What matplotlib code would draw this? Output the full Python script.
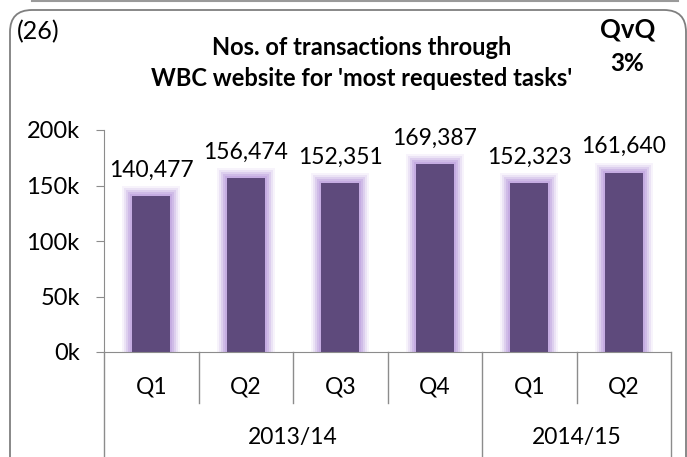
import numpy as np
import matplotlib.pyplot as plt
from matplotlib.patches import FancyBboxPatch
from matplotlib.transforms import IdentityTransform

quarters = ["Q1", "Q2", "Q3", "Q4", "Q1", "Q2"]
years = ["2013/14", "2014/15"]
year_spans = [(0, 4), (4, 6)]
values = [140477, 156474, 152351, 169387, 152323, 161640]

bar_color = "#5E4A7C"
glow_color = "#BFA3DF"
axis_color = "#8C8C8C"

plt.rcParams["font.family"] = ["Lato", "DejaVu Sans"]

W, H = 687, 457
fig = plt.figure(figsize=(W / 100, H / 100), dpi=100)
ax = fig.add_axes([104 / W, 105 / H, 567 / W, 222 / H])

# rounded frame (pixel coordinates, origin bottom-left)
frame = FancyBboxPatch((10, -30), 676, H - 10 + 30, boxstyle="round,pad=0,rounding_size=22",
                       transform=IdentityTransform(), fill=False, edgecolor="#7F7F7F", lw=1.3)
fig.patches.append(frame)
fig.add_artist(plt.Line2D([32, 678], [H - 1, H - 1], transform=IdentityTransform(),
                          color="#9A9A9A", lw=1.5))

x = np.arange(len(values))
vals = np.array(values)
ppx_x = 1 / 94.5          # data units per pixel, x
ppx_y = 200000 / 222      # data units per pixel, y

# soft glow behind the bars
for d, a in [(10, 0.12), (8, 0.2), (6, 0.3), (4, 0.45), (2, 0.6)]:
    ax.bar(x, vals + d * ppx_y, width=0.4 + 2 * d * ppx_x, color=glow_color, alpha=a,
           lw=0, zorder=1)
ax.bar(x, vals, width=0.4, color=bar_color, lw=0, zorder=2)

for xi, v in zip(x, values):
    ax.annotate(f"{v:,}", (xi, v), xytext=(0, 14), textcoords="offset points",
                ha="center", va="baseline", fontsize=16.5, color="black")

ax.set_xlim(-0.5, len(values) - 0.5)
ax.set_ylim(0, 200000)
ticks = np.arange(0, 200001, 50000)
ax.set_yticks(ticks)
ax.set_yticklabels([f"{int(t / 1000)}k" for t in ticks], fontsize=17)
ax.tick_params(axis="y", length=5.5, color=axis_color, pad=12)
ax.set_xticks([])
for s in ["top", "right"]:
    ax.spines[s].set_visible(False)
ax.spines["left"].set_color(axis_color)
ax.spines["bottom"].set_color(axis_color)

# multi-level category axis
xt = ax.get_xaxis_transform()
q_depth = -0.23
y_depth = -0.48
for xi, q in zip(x, quarters):
    ax.text(xi, -0.158, q, transform=xt, ha="center", va="center", fontsize=16.5)
starts = [s for s, _ in year_spans]
for b in range(1, len(values)):
    bottom = y_depth if b in starts else q_depth
    ax.plot([b - 0.5, b - 0.5], [0, bottom], transform=xt, color=axis_color, lw=1,
            clip_on=False)
for edge in [-0.5, len(values) - 0.5]:
    ax.plot([edge, edge], [0, y_depth], transform=xt, color=axis_color, lw=1, clip_on=False)
for yr, (s, e) in zip(years, year_spans):
    ax.text((s + e - 1) / 2, -0.383, yr, transform=xt, ha="center", va="center",
            fontsize=16.5)

fig.text(0.527, 0.895, "Nos. of transactions through", ha="center", va="center",
         fontsize=17, fontweight="bold")
fig.text(0.527, 0.829, "WBC website for 'most requested tasks'", ha="center", va="center",
         fontsize=17, fontweight="bold")
fig.text(0.024, 0.93, "(26)", ha="left", va="center", fontsize=18)
fig.text(0.913, 0.935, "QvQ", ha="center", va="center", fontsize=18.5, fontweight="bold")
fig.text(0.913, 0.862, "3%", ha="center", va="center", fontsize=17.5, fontweight="bold")

fig.savefig("out.png", dpi=100)
